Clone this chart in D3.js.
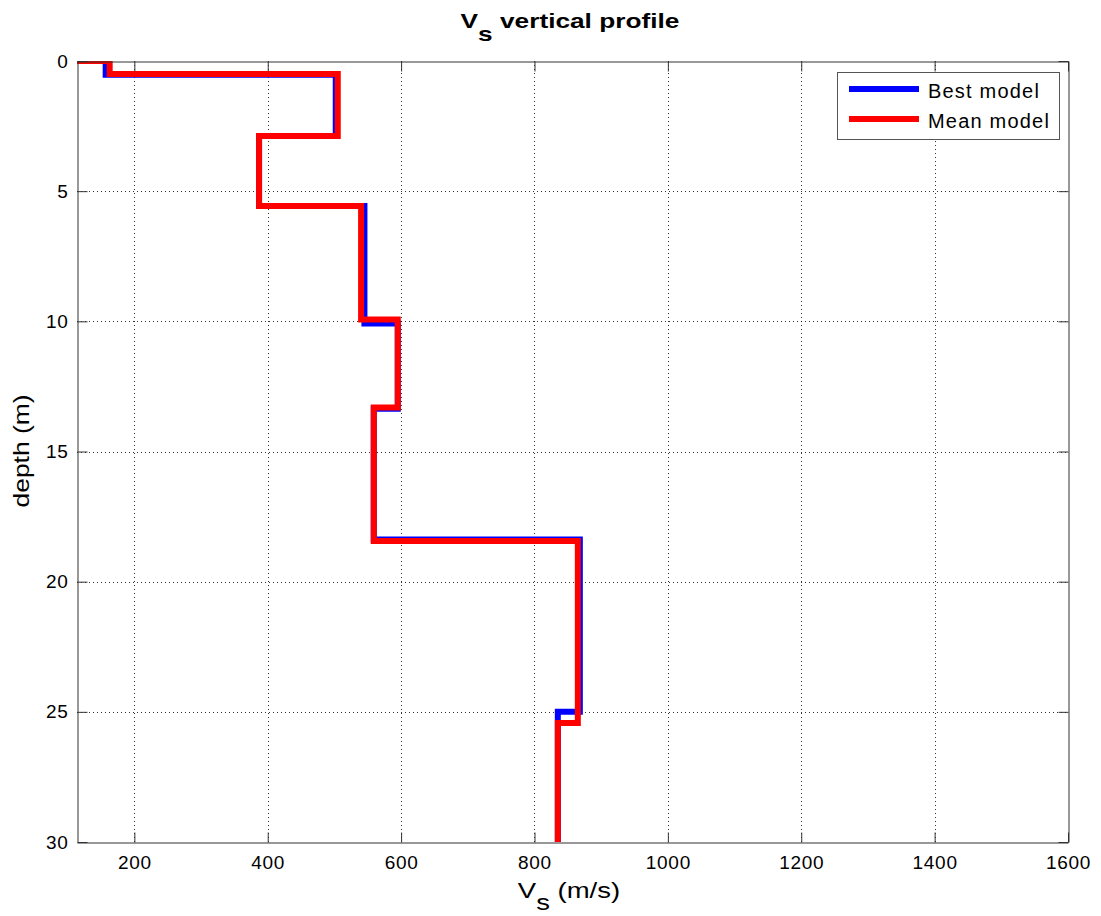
<!DOCTYPE html>
<html>
<head>
<meta charset="utf-8">
<script src="https://cdn.jsdelivr.net/npm/d3@7/dist/d3.min.js"></script>
<style>
  html, body { margin: 0; padding: 0; background: #fff; }
  svg { display: block; font-family: "Liberation Sans", Arial, Helvetica, sans-serif; }
</style>
</head>
<body>
<svg id="chart" width="1101" height="916"></svg>
<script>
// Shear-wave velocity profiles (step functions: velocity vs depth)
const bestVs    = [114, 157, 157, 502, 502, 387, 387, 545, 545, 595, 595, 559, 559, 868, 868, 835, 835];
const bestDepth = [0, 0, 0.53, 0.53, 2.88, 2.88, 5.57, 5.57, 10.08, 10.08, 13.36, 13.36, 18.38, 18.38, 25.0, 25.0, 30];
const meanVs    = [114, 163, 163, 505, 505, 387, 387, 540, 540, 595, 595, 559, 559, 865, 865, 835, 835];
const meanDepth = [0, 0, 0.5, 0.5, 2.88, 2.88, 5.57, 5.57, 9.93, 9.93, 13.31, 13.31, 18.44, 18.44, 25.43, 25.43, 30];

const xTicks = [200, 400, 600, 800, 1000, 1200, 1400, 1600];
const yTicks = [0, 5, 10, 15, 20, 25, 30];
const xDomain = [114, 1600];
const yDomain = [0, 30];

const seriesNames = ["Best model", "Mean model"];
const seriesColors = ["#0000ff", "#ff0000"];

const margin = { left: 77, top: 61, right: 1068, bottom: 842 };

const svg = d3.select("#chart");
const x = d3.scaleLinear().domain(xDomain).range([margin.left, margin.right]);
const y = d3.scaleLinear().domain(yDomain).range([margin.top, margin.bottom]);

// plot background
svg.append("rect")
  .attr("x", margin.left).attr("y", margin.top)
  .attr("width", margin.right - margin.left)
  .attr("height", margin.bottom - margin.top)
  .attr("fill", "#fff");

// dotted grid
const grid = svg.append("g").attr("stroke", "#000").attr("stroke-opacity", 0.8)
  .attr("stroke-width", 1).attr("stroke-dasharray", "1,3");
grid.selectAll("line.gx").data(xTicks.filter(t => x(t) > margin.left + 1 && x(t) < margin.right - 1))
  .join("line").attr("class", "gx")
  .attr("x1", d => Math.round(x(d)) + 0.5).attr("x2", d => Math.round(x(d)) + 0.5)
  .attr("y1", margin.top).attr("y2", margin.bottom);
grid.selectAll("line.gy").data(yTicks.filter(t => y(t) > margin.top + 1 && y(t) < margin.bottom - 1))
  .join("line").attr("class", "gy")
  .attr("y1", d => Math.round(y(d)) + 0.5).attr("y2", d => Math.round(y(d)) + 0.5)
  .attr("x1", margin.left).attr("x2", margin.right);

// profile lines, clipped to the axes box
svg.append("clipPath").attr("id", "plotClip").append("rect")
  .attr("x", margin.left).attr("y", margin.top)
  .attr("width", margin.right - margin.left)
  .attr("height", margin.bottom - margin.top);

const line = d3.line().x(d => x(d[0])).y(d => y(d[1]));
const profiles = [
  d3.zip(bestVs, bestDepth),
  d3.zip(meanVs, meanDepth)
];
svg.append("g").attr("clip-path", "url(#plotClip)")
  .selectAll("path").data(profiles).join("path")
  .attr("d", line)
  .attr("fill", "none")
  .attr("stroke", (d, i) => seriesColors[i])
  .attr("stroke-width", 6)
  .attr("stroke-linejoin", "miter");

// axes (ticks pointing inward)
function styleAxis(g) {
  g.attr("font-size", 19).attr("font-family", "'Liberation Sans', Arial, Helvetica, sans-serif");
  g.select(".domain").attr("stroke", "#333").attr("stroke-width", 1);
  g.selectAll(".tick line").attr("stroke", "#333");
  g.selectAll(".tick text").attr("fill", "#000").style("letter-spacing", "0.7px");
}
const plain = d => String(d);
svg.append("g").attr("transform", `translate(0,${margin.bottom + 0.5})`)
  .call(d3.axisBottom(x).tickValues(xTicks).tickFormat(plain).tickSizeInner(-10).tickSizeOuter(0).tickPadding(13))
  .call(styleAxis);
svg.append("g").attr("transform", `translate(0,${margin.top + 0.5})`)
  .call(d3.axisTop(x).tickValues(xTicks).tickSizeInner(-10).tickSizeOuter(0).tickFormat(""))
  .call(styleAxis);
svg.append("g").attr("transform", `translate(${margin.left + 0.5},0)`)
  .call(d3.axisLeft(y).tickValues(yTicks).tickFormat(plain).tickSizeInner(-10).tickSizeOuter(0).tickPadding(9))
  .call(styleAxis);
svg.append("g").attr("transform", `translate(${margin.right + 0.5},0)`)
  .call(d3.axisRight(y).tickValues(yTicks).tickSizeInner(-10).tickSizeOuter(0).tickFormat(""))
  .call(styleAxis);

// title: V with subscript s
const title = svg.append("g").attr("transform", "translate(570,28) scale(1.25,1)")
  .append("text").attr("text-anchor", "middle")
  .style("font-size", "21px").style("font-weight", "bold");
title.append("tspan").text("V");
title.append("tspan").attr("dy", 13).text("s");
title.append("tspan").attr("dy", -13).text(" vertical profile");

// x label
const xl = svg.append("g").attr("transform", "translate(569,898) scale(1.25,1)")
  .append("text").attr("text-anchor", "middle").style("font-size", "22px");
xl.append("tspan").text("V");
xl.append("tspan").attr("dy", 12).text("s");
xl.append("tspan").attr("dy", -12).text(" (m/s)");

// y label
svg.append("g").attr("transform", "translate(29,451) rotate(-90) scale(1.2,1)")
  .append("text").attr("text-anchor", "middle").style("font-size", "22px")
  .text("depth (m)");

// legend
const legend = svg.append("g");
legend.append("rect").attr("x", 837.5).attr("y", 72.5).attr("width", 222).attr("height", 67)
  .attr("fill", "#fff").attr("stroke", "#555").attr("stroke-width", 1);
const rows = legend.selectAll("g.row").data(seriesNames).join("g").attr("class", "row")
  .attr("transform", (d, i) => `translate(0,${89 + i * 30})`);
rows.append("line").attr("x1", 849).attr("x2", 919).attr("y1", 0).attr("y2", 0)
  .attr("stroke", (d, i) => seriesColors[i]).attr("stroke-width", 6);
rows.append("text").attr("x", 928).attr("y", 8.5)
  .style("font-size", "20px").style("letter-spacing", "1.2px").text(d => d);
</script>
</body>
</html>
